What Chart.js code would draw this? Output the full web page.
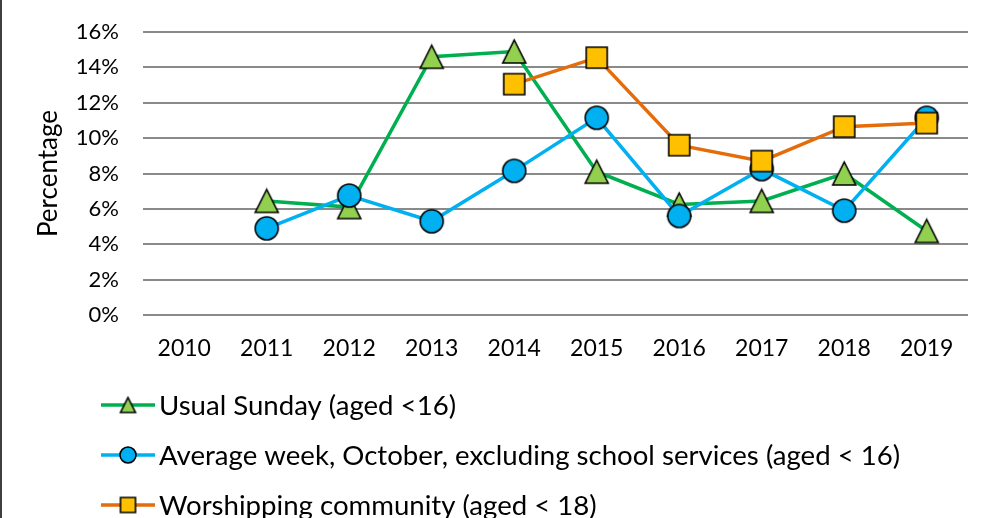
<!DOCTYPE html>
<html>
<head>
<meta charset="utf-8">
<title>Children and young people trend</title>
<script src="https://cdn.jsdelivr.net/npm/chart.js@4.4.1/dist/chart.umd.min.js"></script>
<style>
  html, body { margin: 0; padding: 0; background: #fff; }
</style>
</head>
<body>
<canvas id="trendChart" width="987" height="518"></canvas>
<script>
// ---- data ----
const years = ['2010', '2011', '2012', '2013', '2014', '2015', '2016', '2017', '2018', '2019'];
const usualSunday = [null, 6.45, 6.1, 14.6, 14.9, 8.1, 6.25, 6.45, 8.0, 4.75];
const averageWeek = [null, 4.9, 6.75, 5.3, 8.15, 11.15, 5.6, 8.25, 5.9, 11.15];
const worshipping = [null, null, null, null, 13.05, 14.55, 9.6, 8.7, 10.65, 10.85];
const seriesNames = [
    'Usual Sunday (aged <16)',
    'Average week, October, excluding school services (aged < 16)',
    'Worshipping community (aged < 18)'
];
const yMax = 16;
const yStep = 2;

const FONT = 'Lato, "Open Sans", sans-serif';

// marker pictures (Excel style: filled with black outline)
function makeMarker(shape, size, fill) {
    const pad = 2;
    const c = document.createElement('canvas');
    c.width = c.height = size + pad * 2;
    const g = c.getContext('2d');
    g.fillStyle = fill;
    g.strokeStyle = '#000';
    g.lineWidth = 1.6;
    g.beginPath();
    if (shape === 'triangle') {
        g.moveTo(pad + size / 2, pad);
        g.lineTo(pad + size, pad + size);
        g.lineTo(pad, pad + size);
        g.closePath();
    } else if (shape === 'circle') {
        g.arc(pad + size / 2, pad + size / 2, size / 2, 0, Math.PI * 2);
    } else {
        g.rect(pad, pad, size, size);
    }
    g.fill();
    g.stroke();
    return c;
}

const styles = [
    { line: '#00B050', fill: '#92D050', shape: 'triangle', size: 23 },
    { line: '#00B0F0', fill: '#00B0F0', shape: 'circle', size: 23 },
    { line: '#E46C0A', fill: '#FFC000', shape: 'rect', size: 21 }
];
const legendMarkers = [
    makeMarker('triangle', 15, '#92D050'),
    makeMarker('circle', 16, '#00B0F0'),
    makeMarker('rect', 15, '#FFC000')
];

// left frame edge + legend drawn as a vertical list like the original
const frameAndLegend = {
    id: 'frameAndLegend',
    beforeDraw(chart) {
        const ctx = chart.ctx;
        ctx.save();
        ctx.fillStyle = '#3f3f3f';
        ctx.fillRect(0, 0, 2, chart.height);
        ctx.restore();
    },
    afterDraw(chart) {
        const ctx = chart.ctx;
        const x0 = 101;
        const lineLen = 54;
        const firstRow = chart.chartArea.bottom + 90;
        ctx.save();
        ctx.font = '27.6px ' + FONT;
        ctx.textBaseline = 'middle';
        ctx.fillStyle = '#000';
        chart.data.datasets.forEach(function (ds, i) {
            const y = firstRow + i * 50;
            ctx.strokeStyle = styles[i].line;
            ctx.lineWidth = 3.5;
            ctx.beginPath();
            ctx.moveTo(x0, y);
            ctx.lineTo(x0 + lineLen, y);
            ctx.stroke();
            const m = legendMarkers[i];
            ctx.drawImage(m, x0 + lineLen / 2 - m.width / 2, y - m.height / 2);
            ctx.fillText(ds.label, x0 + lineLen + 4, y + 1);
        });
        ctx.restore();
    }
};

const seriesValues = [usualSunday, averageWeek, worshipping];

new Chart(document.getElementById('trendChart'), {
    type: 'line',
    data: {
        labels: years,
        datasets: seriesValues.map(function (vals, i) {
            return {
                label: seriesNames[i],
                data: vals,
                borderColor: styles[i].line,
                backgroundColor: styles[i].fill,
                borderWidth: 3.5,
                pointStyle: makeMarker(styles[i].shape, styles[i].size, styles[i].fill),
                pointRadius: 12,
                tension: 0,
                order: 2 - i
            };
        })
    },
    options: {
        responsive: false,
        animation: false,
        layout: { padding: { top: 32, right: 19, bottom: 156, left: 0 } },
        plugins: {
            legend: { display: false },
            tooltip: { enabled: false }
        },
        scales: {
            x: {
                offset: true,
                grid: { display: false, drawTicks: false },
                border: { display: false },
                ticks: { color: '#000', padding: 20, maxRotation: 0, font: { family: FONT, size: 23 } },
                afterFit: function (scale) { scale.height = 47; }
            },
            y: {
                min: 0,
                max: yMax,
                ticks: {
                    stepSize: yStep,
                    color: '#000',
                    padding: 24,
                    font: { family: FONT, size: 22 },
                    callback: function (v) { return v + '%'; }
                },
                grid: { color: '#8a8a8a', lineWidth: 2, drawTicks: false },
                border: { display: false },
                title: {
                    display: true,
                    text: 'Percentage',
                    color: '#000',
                    font: { family: FONT, size: 26 },
                    padding: { top: 33, bottom: 0 }
                },
                afterFit: function (scale) {
                    scale.width = 143;
                    scale.paddingTop = 0;
                    scale.paddingBottom = 0;
                }
            }
        }
    },
    plugins: [frameAndLegend]
});
</script>
</body>
</html>
